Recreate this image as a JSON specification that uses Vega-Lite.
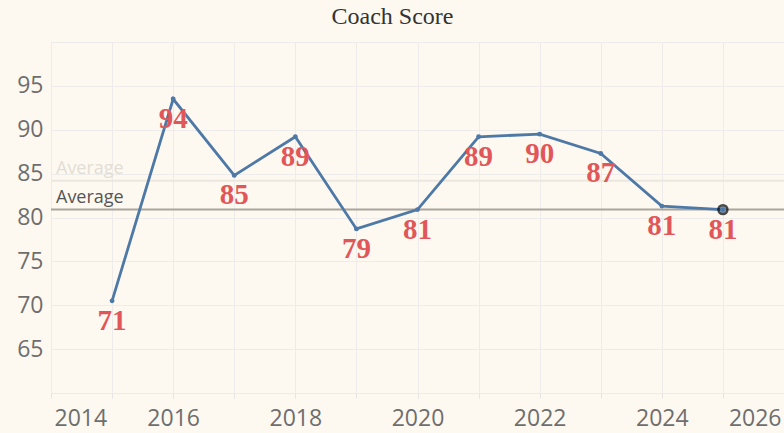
{
  "$schema": "https://vega.github.io/schema/vega-lite/v6.json",
  "width": 733,
  "height": 351,
  "autosize": {"type": "none"},
  "padding": {"left": 51, "top": 42, "right": 0, "bottom": 40},
  "background": "#fdf9f1",
  "view": {"stroke": null},
  "title": {
    "text": "Coach Score",
    "font": "Liberation Serif",
    "fontSize": 24,
    "fontWeight": "normal",
    "color": "#333333",
    "anchor": "middle",
    "offset": 13,
    "dx": -25
  },
  "datasets": {
    "scores": [
      {"year": 2015, "score": 70.5},
      {"year": 2016, "score": 93.5},
      {"year": 2017, "score": 84.8},
      {"year": 2018, "score": 89.2},
      {"year": 2019, "score": 78.7},
      {"year": 2020, "score": 80.9},
      {"year": 2021, "score": 89.2},
      {"year": 2022, "score": 89.5},
      {"year": 2023, "score": 87.3},
      {"year": 2024, "score": 81.3},
      {"year": 2025, "score": 80.9}
    ]
  },
  "layer": [
    {
      "data": {"values": [{"label": "Average", "score": 84.2}]},
      "layer": [
        {
          "mark": {"type": "rule", "color": "#ebe7df", "strokeWidth": 2},
          "encoding": {
            "y": {"field": "score", "type": "quantitative"}
          }
        },
        {
          "mark": {
            "type": "text",
            "align": "left",
            "baseline": "bottom",
            "dx": 5,
            "dy": -3,
            "font": "Open Sans",
            "fontSize": 18,
            "color": "#e2ded6"
          },
          "encoding": {
            "x": {"datum": 2014, "type": "quantitative"},
            "y": {"field": "score", "type": "quantitative"},
            "text": {"field": "label"}
          }
        }
      ]
    },
    {
      "data": {"values": [{"label": "Average", "score": 80.9}]},
      "layer": [
        {
          "mark": {"type": "rule", "color": "#aaa69e", "strokeWidth": 2},
          "encoding": {
            "y": {"field": "score", "type": "quantitative"}
          }
        },
        {
          "mark": {
            "type": "text",
            "align": "left",
            "baseline": "bottom",
            "dx": 5,
            "dy": -3,
            "font": "Open Sans",
            "fontSize": 18,
            "color": "#555555"
          },
          "encoding": {
            "x": {"datum": 2014, "type": "quantitative"},
            "y": {"field": "score", "type": "quantitative"},
            "text": {"field": "label"}
          }
        }
      ]
    },
    {
      "data": {"name": "scores"},
      "mark": {
        "type": "line",
        "color": "#4e79a7",
        "strokeWidth": 2.8,
        "point": {"filled": true, "size": 24, "color": "#4e79a7"}
      },
      "encoding": {
        "x": {
          "field": "year",
          "type": "quantitative",
          "scale": {"domain": [2014, 2026], "nice": false, "zero": false},
          "axis": {
            "title": null,
            "values": [2014, 2015, 2016, 2017, 2018, 2019, 2020, 2021, 2022, 2023, 2024, 2025, 2026],
            "format": "d",
            "labelExpr": "datum.value % 2 == 0 ? datum.label : ''",
            "labelFlush": true,
            "labelFlushOffset": -3,
            "labelFont": "Open Sans",
            "labelFontSize": 23,
            "labelColor": "#6e6e6e",
            "labelPadding": 9,
            "domain": false,
            "ticks": true,
            "tickSize": 5,
            "tickColor": "#e6e4e0",
            "grid": true,
            "gridColor": "#eeecea",
            "gridWidth": 1
          }
        },
        "y": {
          "field": "score",
          "type": "quantitative",
          "scale": {"domain": [60, 100], "nice": false, "zero": false},
          "axis": {
            "title": null,
            "values": [60, 65, 70, 75, 80, 85, 90, 95, 100],
            "labelExpr": "datum.value == 60 || datum.value == 100 ? '' : datum.label",
            "labelFont": "Open Sans",
            "labelFontSize": 23,
            "labelColor": "#6e6e6e",
            "labelPadding": 8,
            "domain": false,
            "ticks": false,
            "grid": true,
            "gridColor": "#eeecea",
            "gridWidth": 1
          }
        }
      }
    },
    {
      "data": {"name": "scores"},
      "transform": [{"filter": "datum.year == 2025"}],
      "mark": {
        "type": "point",
        "filled": true,
        "size": 80,
        "color": "#4e79a7",
        "stroke": "#000000",
        "strokeWidth": 2.5
      },
      "encoding": {
        "x": {"field": "year", "type": "quantitative"},
        "y": {"field": "score", "type": "quantitative"}
      }
    },
    {
      "data": {"name": "scores"},
      "mark": {
        "type": "text",
        "align": "center",
        "baseline": "top",
        "dy": 6,
        "font": "Liberation Serif",
        "fontSize": 29,
        "fontWeight": "bold",
        "color": "#e15759"
      },
      "encoding": {
        "x": {"field": "year", "type": "quantitative"},
        "y": {"field": "score", "type": "quantitative"},
        "text": {"field": "score", "type": "quantitative", "format": ".0f"}
      }
    }
  ]
}
